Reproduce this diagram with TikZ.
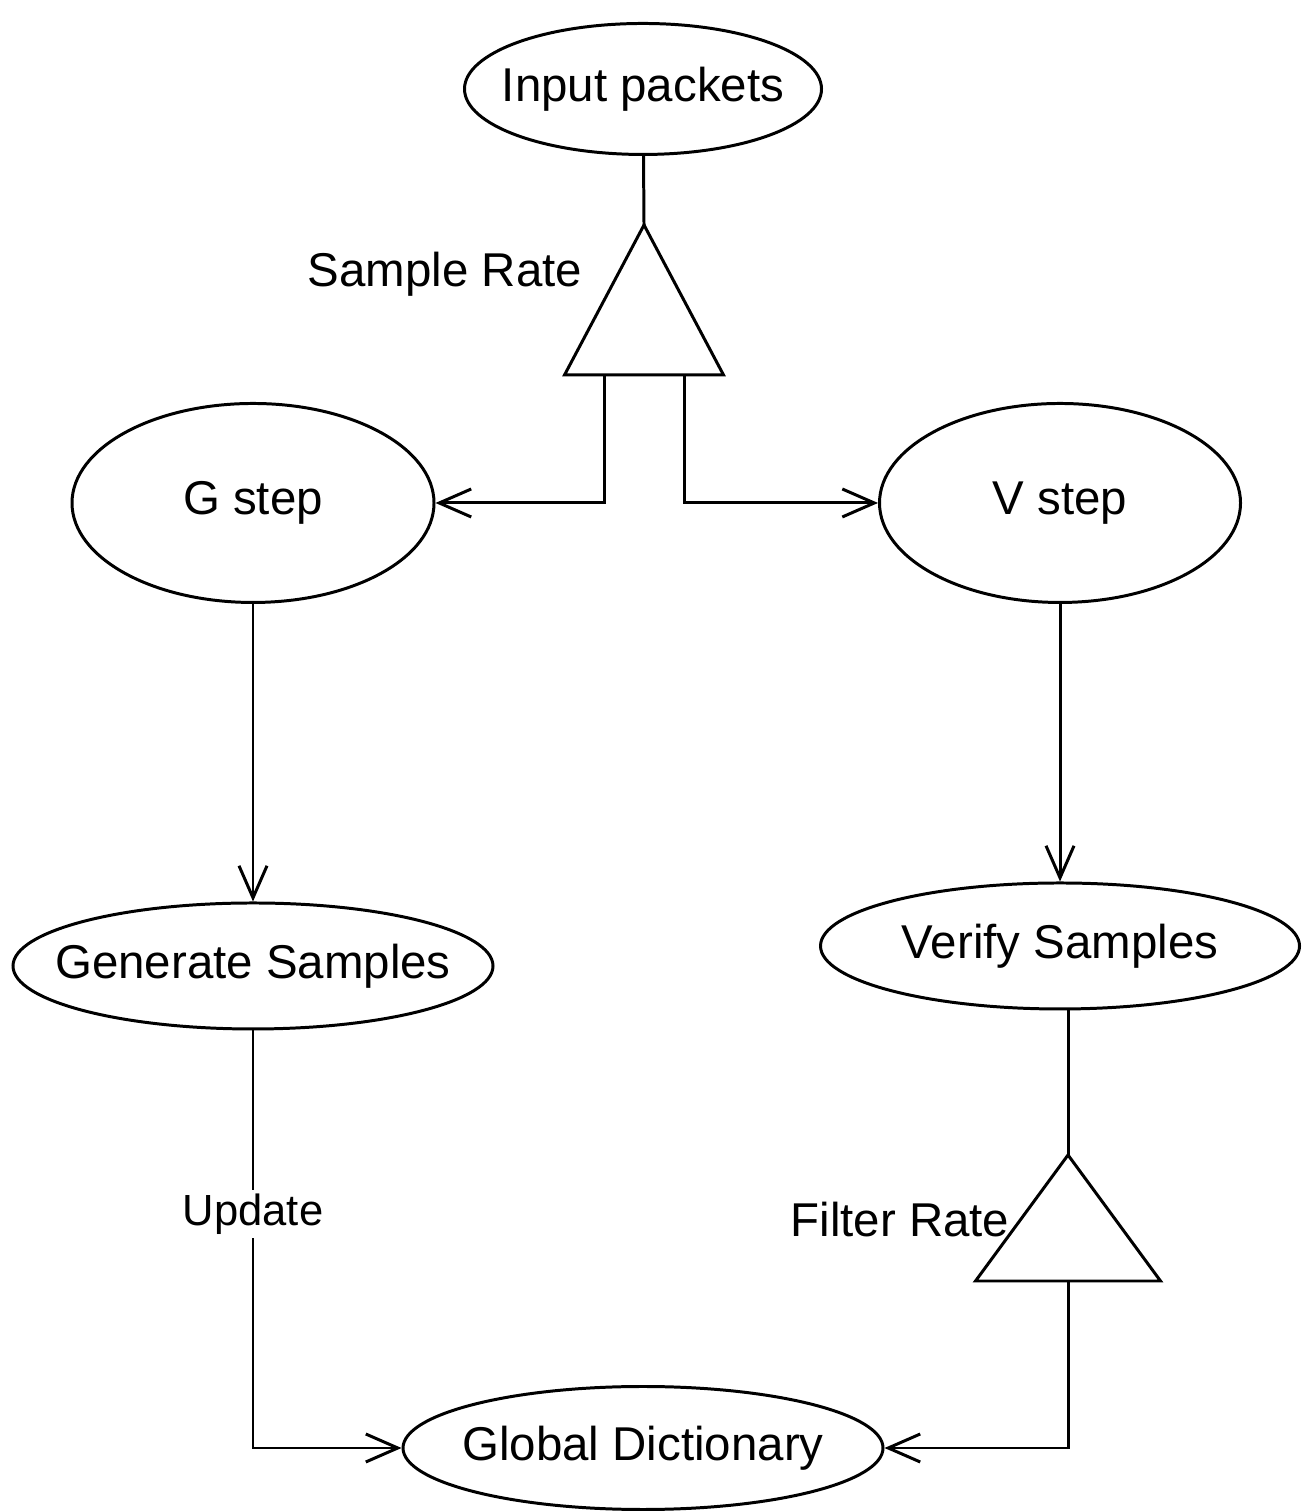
\documentclass[tikz,border=0pt]{standalone}
\usepackage{fontspec}
\setmainfont{Liberation Sans}
\usetikzlibrary{shapes.geometric, arrows.meta, positioning, calc}

\begin{document}
\begin{tikzpicture}[
    stage/.style={ellipse, draw, line width=0.85pt, inner xsep=-3.2mm, inner ysep=0pt, text centered, font=\fontsize{13.5}{16}\selectfont},
    gate/.style={isosceles triangle, shape border rotate=90, isosceles triangle stretches, draw, line width=0.85pt, inner sep=0pt, outer sep=0pt, anchor=apex},
    ratetext/.style={font=\fontsize{13.5}{16}\selectfont, anchor=base, inner sep=0pt},
    flow/.style={-{Straight Barb[length=3.2mm, width=2.8mm]}, line width=0.85pt},
    link/.style={line width=0.85pt},
    edgetext/.style={font=\fontsize{12.4}{14}\selectfont, fill=white, inner sep=1pt}
  ]

    \useasboundingbox (0, 0) rectangle (13.12, 15.11);

    % Stages
    \node[stage, minimum width=3.57cm, minimum height=1.31cm] (input) at (6.43, 14.22) {Input packets};
    \node[stage, minimum width=3.62cm, minimum height=1.99cm] (gstep) at (2.53, 10.08) {G step};
    \node[stage, minimum width=3.61cm, minimum height=1.99cm] (vstep) at (10.60, 10.08) {V step};
    \node[stage, minimum width=4.80cm, minimum height=1.26cm] (generate) at (2.53, 5.45) {Generate Samples};
    \node[stage, minimum width=4.79cm, minimum height=1.26cm] (verify) at (10.60, 5.65) {Verify Samples};
    \node[stage, minimum width=4.80cm, minimum height=1.23cm] (dict) at (6.43, 0.63) {Global Dictionary};

    % Rate gates
    \node[gate, minimum width=1.59cm, minimum height=1.50cm] (sample) at (6.44, 12.86) {};
    \node[gate, minimum width=1.85cm, minimum height=1.26cm] (filter) at (10.68, 3.56) {};
    \node[ratetext] (samplerate) at (4.45, 12.24) {Sample Rate};
    \node[ratetext] (filterrate) at (9.00, 2.74) {Filter Rate};

    % Flows
    \draw[link] (input) -- (sample.apex);
    \draw[flow] ([xshift=-0.4cm]sample.lower side) |- (gstep);
    \draw[flow] ([xshift=0.4cm]sample.lower side) |- (vstep);
    \draw[flow] (gstep) -- (generate);
    \draw[flow] (vstep) -- (verify);
    \draw[link] (filter.apex |- verify.south) -- (filter.apex);
    \draw[flow] (generate.south) |- node[edgetext, pos=0.22] (update) {Update} (dict);
    \draw[flow] (filter.lower side) |- (dict);

  \end{tikzpicture}
\end{document}
